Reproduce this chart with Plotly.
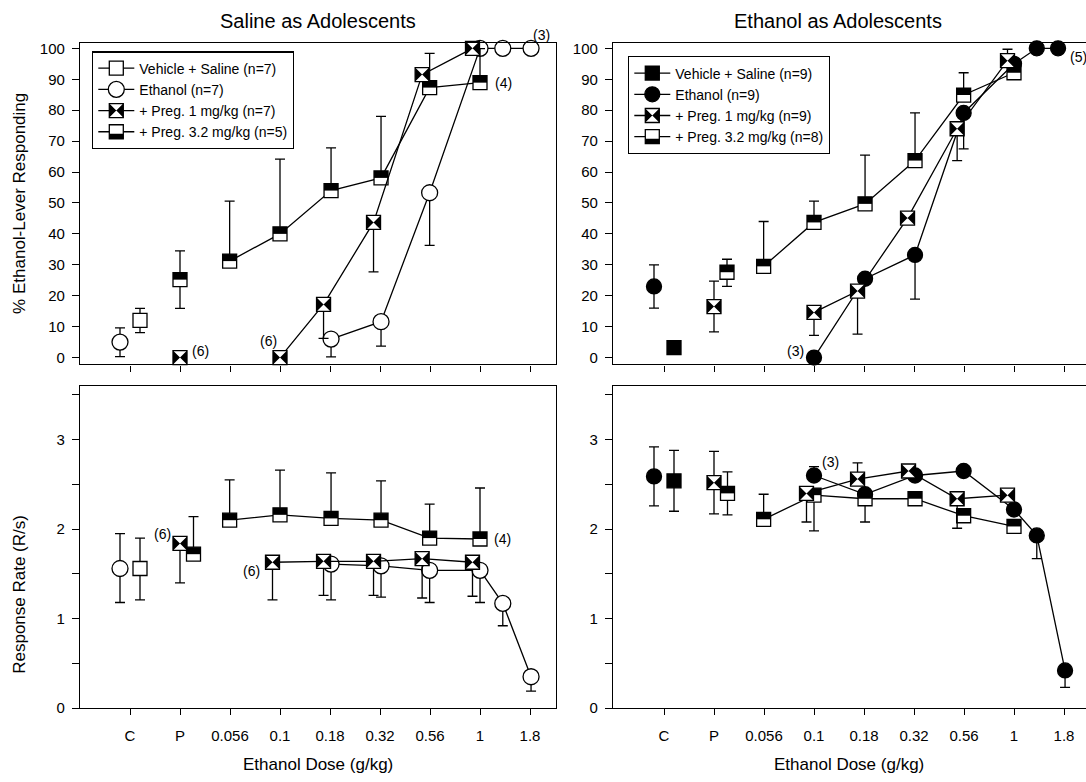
import math
import plotly.graph_objects as go

FONT = "Liberation Sans, Arial, Helvetica, sans-serif"
W, H = 1086, 782

# ---------------- data ----------------
DOSE_TICKS = ["C", "P", "0.056", "0.1", "0.18", "0.32", "0.56", "1", "1.8"]
PCT_TICKS = list(range(0, 101, 10))
RATE_TICKS = [0, 1, 2, 3]

# Saline as adolescents: % ethanol-lever responding
SP_VEH_DOSE = ["C"]
SP_VEH_Y = [12.0]
SP_VEH_EU = [3.9]
SP_VEH_ED = [3.9]
SP_VEH_JIT = [0.2]

SP_ETH_DOSE = ["C", 0.18, 0.32, 0.56, 1, 1.3, 1.8]
SP_ETH_Y = [5.0, 6.0, 11.6, 53.3, 100, 100, 100]
SP_ETH_EU = [4.6, 0, 0, 0, 0, 0, 0]
SP_ETH_ED = [4.7, 5.8, 7.9, 17.0, 0, 0, 0]
SP_ETH_JIT = [-0.2, 0, 0, 0, 0, 0, 0]

SP_P1_DOSE = ["P", 0.1, 0.18, 0.32, 0.56, 1]
SP_P1_Y = [0, 0, 17.2, 43.7, 91.5, 100]
SP_P1_EU = [0, 0, 0, 0, 0, 0]
SP_P1_ED = [0, 0, 11.0, 16.0, 0, 0]
SP_P1_JIT = [0, 0, -0.15, -0.15, -0.15, -0.15]

SP_P32_DOSE = ["P", 0.056, 0.1, 0.18, 0.32, 0.56, 1]
SP_P32_Y = [25.2, 31.2, 40.0, 54.0, 58.1, 87.3, 88.9]
SP_P32_EU = [9.3, 19.4, 24.2, 13.8, 19.9, 11.1, 11.0]
SP_P32_ED = [9.3, 0, 0, 0, 0, 0, 0]
SP_P32_JIT = [0, 0, 0, 0, 0, 0, 0]

# Ethanol as adolescents: % ethanol-lever responding
EP_VEH_DOSE = ["C"]
EP_VEH_Y = [3.2]
EP_VEH_EU = [0]
EP_VEH_ED = [0]
EP_VEH_JIT = [0.2]

EP_ETH_DOSE = ["C", 0.1, 0.18, 0.32, 0.56, 1, 1.3, 1.8]
EP_ETH_Y = [23.0, 0, 25.5, 33.2, 79.1, 95.0, 100, 100]
EP_ETH_EU = [7.0, 0, 0, 0, 0, 0, 0, 0]
EP_ETH_ED = [7.0, 0, 0, 14.3, 11.6, 0, 0, 0]
EP_ETH_JIT = [-0.2, 0, 0, 0, 0, 0, 0, -0.14]

EP_P1_DOSE = ["P", 0.1, 0.18, 0.32, 0.56, 1]
EP_P1_Y = [16.5, 14.6, 21.5, 45.1, 74.0, 96.0]
EP_P1_EU = [8.2, 0, 0, 0, 0, 3.7]
EP_P1_ED = [8.2, 7.4, 13.9, 0, 10.3, 0]
EP_P1_JIT = [0, 0, -0.15, -0.15, -0.13, -0.13]

EP_P32_DOSE = ["P", 0.056, 0.1, 0.18, 0.32, 0.56, 1]
EP_P32_Y = [27.6, 29.5, 43.7, 49.7, 63.7, 84.9, 92.1]
EP_P32_EU = [4.2, 14.5, 6.9, 15.8, 15.4, 7.2, 0]
EP_P32_ED = [4.6, 0, 0, 0, 0, 0, 0]
EP_P32_JIT = [0.26, 0, 0, 0, 0, 0, 0]

# Saline as adolescents: response rate
SR_VEH_DOSE = ["C"]
SR_VEH_Y = [1.56]
SR_VEH_EU = [0.34]
SR_VEH_ED = [0.35]
SR_VEH_JIT = [0.2]

SR_ETH_DOSE = ["C", 0.18, 0.32, 0.56, 1, 1.3, 1.8]
SR_ETH_Y = [1.56, 1.61, 1.59, 1.54, 1.54, 1.17, 0.35]
SR_ETH_EU = [0.39, 0, 0, 0, 0, 0, 0]
SR_ETH_ED = [0.38, 0.40, 0.35, 0.36, 0.36, 0.25, 0.16]
SR_ETH_JIT = [-0.2, 0, 0, 0, 0, 0, 0]

SR_P1_DOSE = ["P", 0.1, 0.18, 0.32, 0.56, 1]
SR_P1_Y = [1.84, 1.63, 1.64, 1.64, 1.67, 1.63]
SR_P1_EU = [0, 0, 0, 0, 0, 0]
SR_P1_ED = [0.44, 0.42, 0.38, 0.38, 0.44, 0.38]
SR_P1_JIT = [0, -0.15, -0.15, -0.15, -0.15, -0.15]

SR_P32_DOSE = ["P", 0.056, 0.1, 0.18, 0.32, 0.56, 1]
SR_P32_Y = [1.72, 2.10, 2.16, 2.12, 2.10, 1.90, 1.89]
SR_P32_EU = [0.42, 0.45, 0.50, 0.51, 0.44, 0.38, 0.57]
SR_P32_ED = [0, 0, 0, 0, 0, 0, 0]
SR_P32_JIT = [0.27, 0, 0, 0, 0, 0, 0]

# Ethanol as adolescents: response rate
ER_VEH_DOSE = ["C"]
ER_VEH_Y = [2.54]
ER_VEH_EU = [0.34]
ER_VEH_ED = [0.34]
ER_VEH_JIT = [0.2]

ER_ETH_DOSE = ["C", 0.1, 0.18, 0.32, 0.56, 1, 1.3, 1.8]
ER_ETH_Y = [2.59, 2.60, 2.39, 2.60, 2.65, 2.22, 1.93, 0.42]
ER_ETH_EU = [0.33, 0.10, 0, 0, 0, 0, 0, 0]
ER_ETH_ED = [0.33, 0, 0.31, 0, 0, 0, 0.26, 0.19]
ER_ETH_JIT = [-0.2, 0, 0, 0, 0, 0, 0, 0]

ER_P1_DOSE = ["P", 0.1, 0.18, 0.32, 0.56, 1]
ER_P1_Y = [2.52, 2.40, 2.56, 2.65, 2.34, 2.38]
ER_P1_EU = [0.35, 0, 0.18, 0, 0, 0]
ER_P1_ED = [0.35, 0.32, 0, 0, 0.33, 0]
ER_P1_JIT = [0, -0.15, -0.15, -0.13, -0.13, -0.13]

ER_P32_DOSE = ["P", 0.056, 0.1, 0.18, 0.32, 0.56, 1]
ER_P32_Y = [2.40, 2.11, 2.38, 2.34, 2.34, 2.15, 2.03]
ER_P32_EU = [0.24, 0.28, 0, 0, 0, 0, 0]
ER_P32_ED = [0.24, 0, 0.40, 0, 0, 0, 0]
ER_P32_JIT = [0.27, 0, 0, 0, 0, 0, 0]

LEFT_NAMES = ["Vehicle + Saline (n=7)", "Ethanol (n=7)",
              "+ Preg. 1 mg/kg (n=7)", "+ Preg. 3.2 mg/kg (n=5)"]
RIGHT_NAMES = ["Vehicle + Saline (n=9)", "Ethanol (n=9)",
               "+ Preg. 1 mg/kg (n=9)", "+ Preg. 3.2 mg/kg (n=8)"]

# ---------------- helpers ----------------
def pos(d, j=0.0):
    if d == "C":
        return 0 + j
    if d == "P":
        return 1 + j
    return 7 + 4 * math.log10(d) + j


def build(doses, ys, eu, ed, jit):
    X, Y, EU, ED = [], [], [], []
    prev_ctrl = False
    for i, d in enumerate(doses):
        ctrl = isinstance(d, str)
        if X and (ctrl or prev_ctrl):
            X.append(None); Y.append(None); EU.append(0); ED.append(0)
        X.append(pos(d, jit[i])); Y.append(ys[i]); EU.append(eu[i]); ED.append(ed[i])
        prev_ctrl = ctrl
    return X, Y, EU, ED


LW = 1.3
SQ = 14
CI = 16
BLACK = "black"

BASE = {
    "open_sq": dict(symbol="square", size=SQ, color="white", line=dict(color=BLACK, width=LW)),
    "open_ci": dict(symbol="circle", size=CI, color="white", line=dict(color=BLACK, width=LW)),
    "fill_sq": dict(symbol="square", size=SQ, color=BLACK, line=dict(color=BLACK, width=LW)),
    "fill_ci": dict(symbol="circle", size=CI - 1, color=BLACK, line=dict(color=BLACK, width=LW)),
}
OVER_BOWTIE = dict(symbol="bowtie", size=SQ, color=BLACK, line=dict(color=BLACK, width=0))
OVER_HALF = dict(symbol="line-ew", size=SQ / 1.4, color=BLACK,
                 line=dict(color=BLACK, width=SQ / 2), angle=180, standoff=SQ / 4)
LEG_HALF = dict(symbol="line-ew", size=SQ / 1.4, color=BLACK,
                line=dict(color=BLACK, width=5), angle=180, standoff=SQ / 2 - 2.5)

fig = go.Figure()


def add_series(xa, ya, doses, ys, eu, ed, jit, base, overlay=None):
    X, Y, EU, ED = build(doses, ys, eu, ed, jit)
    fig.add_trace(go.Scatter(
        x=X, y=Y, xaxis=xa, yaxis=ya, mode="lines+markers", showlegend=False,
        line=dict(color=BLACK, width=LW), marker=BASE[base], cliponaxis=False,
        connectgaps=False, hoverinfo="skip",
        error_y=dict(type="data", symmetric=False, array=EU, arrayminus=ED,
                     color=BLACK, thickness=LW, width=5)))
    if overlay is not None:
        fig.add_trace(go.Scatter(
            x=X, y=Y, xaxis=xa, yaxis=ya, mode="markers", showlegend=False,
            marker=overlay, cliponaxis=False, hoverinfo="skip"))


panels = [
    ("x", "y", [
        (SP_VEH_DOSE, SP_VEH_Y, SP_VEH_EU, SP_VEH_ED, SP_VEH_JIT, "open_sq", None),
        (SP_ETH_DOSE, SP_ETH_Y, SP_ETH_EU, SP_ETH_ED, SP_ETH_JIT, "open_ci", None),
        (SP_P32_DOSE, SP_P32_Y, SP_P32_EU, SP_P32_ED, SP_P32_JIT, "open_sq", OVER_HALF),
        (SP_P1_DOSE, SP_P1_Y, SP_P1_EU, SP_P1_ED, SP_P1_JIT, "open_sq", OVER_BOWTIE),
    ]),
    ("x2", "y2", [
        (EP_VEH_DOSE, EP_VEH_Y, EP_VEH_EU, EP_VEH_ED, EP_VEH_JIT, "fill_sq", None),
        (EP_ETH_DOSE, EP_ETH_Y, EP_ETH_EU, EP_ETH_ED, EP_ETH_JIT, "fill_ci", None),
        (EP_P32_DOSE, EP_P32_Y, EP_P32_EU, EP_P32_ED, EP_P32_JIT, "open_sq", OVER_HALF),
        (EP_P1_DOSE, EP_P1_Y, EP_P1_EU, EP_P1_ED, EP_P1_JIT, "open_sq", OVER_BOWTIE),
    ]),
    ("x3", "y3", [
        (SR_VEH_DOSE, SR_VEH_Y, SR_VEH_EU, SR_VEH_ED, SR_VEH_JIT, "open_sq", None),
        (SR_ETH_DOSE, SR_ETH_Y, SR_ETH_EU, SR_ETH_ED, SR_ETH_JIT, "open_ci", None),
        (SR_P32_DOSE, SR_P32_Y, SR_P32_EU, SR_P32_ED, SR_P32_JIT, "open_sq", OVER_HALF),
        (SR_P1_DOSE, SR_P1_Y, SR_P1_EU, SR_P1_ED, SR_P1_JIT, "open_sq", OVER_BOWTIE),
    ]),
    ("x4", "y4", [
        (ER_VEH_DOSE, ER_VEH_Y, ER_VEH_EU, ER_VEH_ED, ER_VEH_JIT, "fill_sq", None),
        (ER_ETH_DOSE, ER_ETH_Y, ER_ETH_EU, ER_ETH_ED, ER_ETH_JIT, "fill_ci", None),
        (ER_P32_DOSE, ER_P32_Y, ER_P32_EU, ER_P32_ED, ER_P32_JIT, "open_sq", OVER_HALF),
        (ER_P1_DOSE, ER_P1_Y, ER_P1_EU, ER_P1_ED, ER_P1_JIT, "open_sq", OVER_BOWTIE),
    ]),
]
for xa, ya, series in panels:
    for s in series:
        add_series(xa, ya, *s)

# ---------------- legends (two stacked layers per panel) ----------------
def add_legend(names, xa, ya, bases, lay_a, lay_b):
    for name, b in zip(names, bases):
        fig.add_trace(go.Scatter(x=[None], y=[None], xaxis=xa, yaxis=ya, name=name,
                                 mode="lines+markers", line=dict(color=BLACK, width=LW),
                                 marker=BASE[b], legend=lay_a))
    overs = [None, None, OVER_BOWTIE, LEG_HALF]
    for name, o in zip(names, overs):
        if o is None:
            o = dict(symbol="square", size=SQ, color="rgba(0,0,0,0)",
                     line=dict(color="rgba(0,0,0,0)", width=0))
        fig.add_trace(go.Scatter(x=[None], y=[None], xaxis=xa, yaxis=ya, name=name,
                                 mode="markers", marker=o, legend=lay_b))


add_legend(LEFT_NAMES, "x", "y", ["open_sq", "open_ci", "open_sq", "open_sq"], "legend", "legend2")
add_legend(RIGHT_NAMES, "x2", "y2", ["fill_sq", "fill_ci", "open_sq", "open_sq"], "legend3", "legend4")


def px(v):
    return v / W


def py(v):
    return 1 - v / H


L_DOM = [px(80), px(556)]
R_DOM = [px(613), 1.0]
T_DOM = [py(366), py(40)]
B_DOM = [py(715), py(388)]

tickfont = dict(family=FONT, size=15, color=BLACK)


def xax(dom, anchor, rng, labels):
    return dict(domain=dom, anchor=anchor, range=rng, tickmode="array",
                tickvals=list(range(len(DOSE_TICKS))), ticktext=DOSE_TICKS,
                showticklabels=labels, ticks="outside", ticklen=6, tickwidth=LW,
                tickcolor=BLACK, showline=True, linecolor=BLACK, linewidth=LW,
                mirror=True, showgrid=False, zeroline=False, tickfont=tickfont,
                ticklabelstandoff=8, fixedrange=True)


def yax(dom, anchor, rng, vals, mirror, minor=False):
    d = dict(domain=dom, anchor=anchor, range=rng, tickmode="array", tickvals=vals,
             ticks="outside", ticklen=7, tickwidth=LW, tickcolor=BLACK, showline=True,
             linecolor=BLACK, linewidth=LW, mirror=mirror, showgrid=False,
             zeroline=False, tickfont=tickfont, ticklabelstandoff=4, fixedrange=True)
    if minor:
        d["minor"] = dict(tickmode="array", tickvals=[0.5, 1.5, 2.5, 3.5], ticks="outside",
                          ticklen=7, tickwidth=LW, tickcolor=BLACK, showgrid=False)
    return d


LEG_FONT = 14
leg_common = dict(font=dict(family=FONT, size=LEG_FONT, color=BLACK), xanchor="left",
                  yanchor="top", borderwidth=LW, itemwidth=36,
                  itemclick=False, itemdoubleclick=False)
leg_over = dict(font=dict(family=FONT, size=LEG_FONT, color="rgba(0,0,0,0)"), xanchor="left",
                yanchor="top", borderwidth=LW, bordercolor="rgba(0,0,0,0)", itemwidth=36,
                bgcolor="rgba(0,0,0,0)", itemclick=False, itemdoubleclick=False)

annos = [
    dict(text="Saline as Adolescents", x=px(318), y=py(17), size=20),
    dict(text="Ethanol as Adolescents", x=px(838), y=py(17), size=20),
    dict(text="Ethanol Dose (g/kg)", x=px(318), y=py(772), size=17),
    dict(text="Ethanol Dose (g/kg)", x=px(849), y=py(772), size=17),
]
ann_list = [dict(text=a["text"], x=a["x"], y=a["y"], xref="paper", yref="paper",
                 showarrow=False, xanchor="center", yanchor="middle",
                 font=dict(family=FONT, size=a["size"], color=BLACK)) for a in annos]
ann_list.append(dict(text="% Ethanol-Lever Responding", x=px(20), y=py(203), xref="paper",
                     yref="paper", textangle=-90, showarrow=False, xanchor="center",
                     yanchor="middle", font=dict(family=FONT, size=17, color=BLACK)))
ann_list.append(dict(text="Response Rate (R/s)", x=px(20), y=py(600), xref="paper",
                     yref="paper", textangle=-90, showarrow=False, xanchor="center",
                     yanchor="middle", font=dict(family=FONT, size=17, color=BLACK)))

# n-labels attached to data points: (xaxis, yaxis, dose, jitter, value, text, xshift, yshift)
N_LABELS = [
    ("x", "y", 1.8, 0, 100, "(3)", 10, 13),
    ("x", "y", 1, 0, 88.9, "(4)", 23, 0),
    ("x", "y", "P", 0, 0, "(6)", 20, 7),
    ("x", "y", 0.1, 0, 0, "(6)", -12, 17),
    ("x2", "y2", 1.8, -0.14, 100, "(5)", 20, -9),
    ("x2", "y2", 0.1, 0, 0, "(3)", -18, 7),
    ("x3", "y3", "P", 0, 1.84, "(6)", -18, 9),
    ("x3", "y3", 0.1, -0.15, 1.63, "(6)", -21, -9),
    ("x3", "y3", 1, 0, 1.89, "(4)", 22, 0),
    ("x4", "y4", 0.1, 0, 2.60, "(3)", 17, 13),
]
for xa, ya, d, j, v, t, xs, ys in N_LABELS:
    ann_list.append(dict(text=t, x=pos(d, j), y=v, xref=xa, yref=ya, showarrow=False,
                         xshift=xs, yshift=ys, xanchor="center", yanchor="middle",
                         font=dict(family=FONT, size=14, color=BLACK)))

fig.update_layout(
    width=W, height=H, margin=dict(l=0, r=0, t=0, b=0),
    paper_bgcolor="white", plot_bgcolor="white",
    xaxis=xax(L_DOM, "y", [-1.0, 8.52], False),
    yaxis=yax(T_DOM, "x", [-2.2, 101.6], PCT_TICKS, True),
    xaxis2=xax(R_DOM, "y2", [-1.02, 8.44], False),
    yaxis2=yax(T_DOM, "x2", [-2.2, 101.6], PCT_TICKS, False),
    xaxis3=xax(L_DOM, "y3", [-1.0, 8.52], True),
    yaxis3=yax(B_DOM, "x3", [0, 3.6], RATE_TICKS, True, minor=True),
    xaxis4=xax(R_DOM, "y4", [-1.02, 8.44], True),
    yaxis4=yax(B_DOM, "x4", [0, 3.6], RATE_TICKS, False, minor=True),
    legend=dict(leg_common, x=px(92), y=py(48), bgcolor="white", bordercolor=BLACK),
    legend2=dict(leg_over, x=px(92), y=py(48)),
    legend3=dict(leg_common, x=px(628), y=py(53), bgcolor="white", bordercolor=BLACK),
    legend4=dict(leg_over, x=px(628), y=py(53)),
    annotations=ann_list,
    showlegend=True,
)

fig.write_html("out.html")
